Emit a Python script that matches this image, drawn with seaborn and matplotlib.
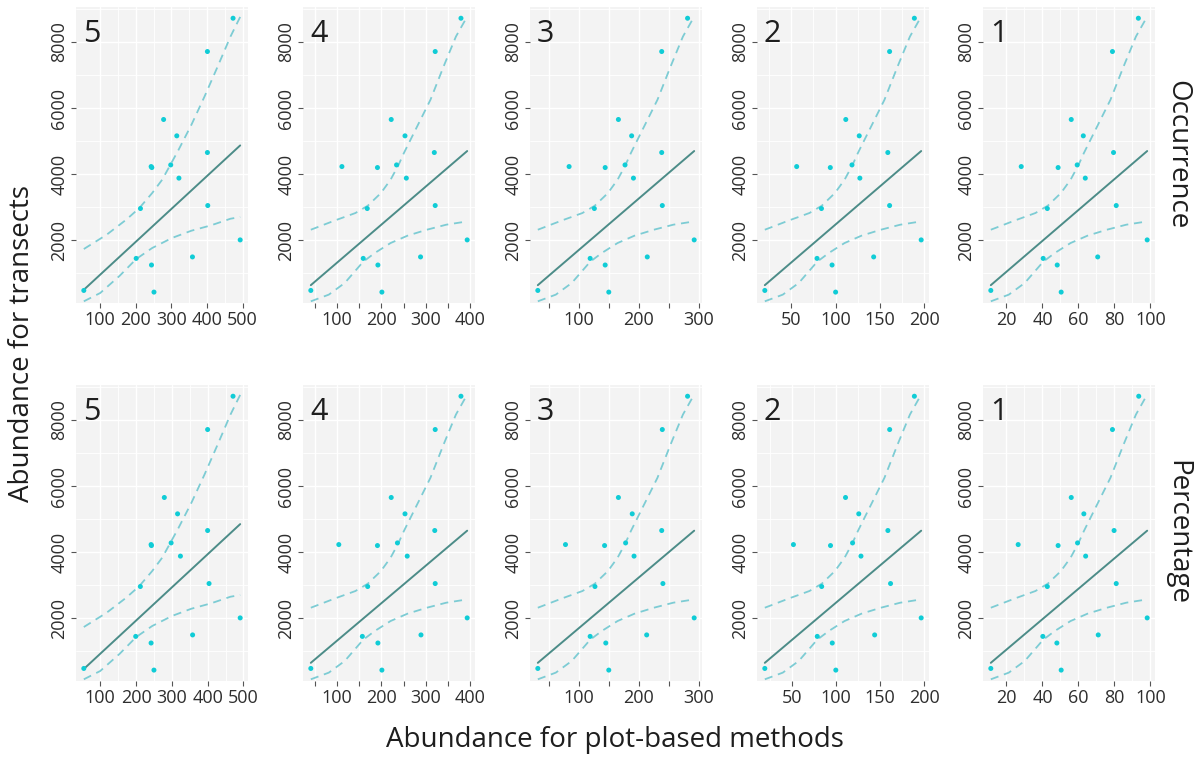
import numpy as np
import pandas as pd
import matplotlib
matplotlib.use("Agg")
import matplotlib.pyplot as plt
import seaborn as sns

# ---------------- data ----------------
transect_abundance = [480, 4230, 2960, 1450, 4200, 1250, 430, 5655, 4280, 5160,
                      3880, 1495, 4655, 3050, 7712, 8720, 2010]

panel_labels = ["5", "4", "3", "2", "1"]
row_labels = ["Occurrence", "Percentage"]

occ_x5 = [54, 243, 213, 201, 245, 244, 251, 278, 298, 315, 321, 359, 401, 402, 401, 473, 493]
occ_x4 = [41, 111, 168, 159, 191, 192, 201, 222, 234, 253, 256, 288, 319, 321, 321, 379, 393]
occ_x3 = [32, 84, 126, 119, 144, 144, 150, 166, 177, 188, 191, 214, 238, 239, 238, 281, 292]
occ_x2 = [20, 56, 84, 79, 94, 96, 100, 111.5, 118.5, 126.7, 127.4, 143, 159, 161, 161, 189, 196.7]
occ_x1 = [11.3, 28.2, 42.7, 40.4, 48.7, 48.2, 50.4, 56, 59.3, 62.7, 63.8, 70.7, 79.5, 81, 78.9, 93.3, 98.2]

pct_x5 = [54, 242, 212, 199, 243, 242, 250, 279, 298, 316, 324, 358, 400, 404, 400, 471, 491]
pct_x4 = [41, 104, 169, 157, 191, 192, 201, 222, 236, 253, 258, 289, 320, 321, 321, 379, 393]
pct_x3 = [32, 78, 127, 119, 143, 145, 150, 166, 178, 189, 192, 213, 238, 240, 239, 281, 292]
pct_x2 = [19.6, 52, 84, 79, 94, 96, 100, 111, 119, 126, 128.5, 144, 159, 162, 161, 189, 196.7]
pct_x1 = [11.3, 26.5, 42.7, 40.2, 48.7, 48, 50.4, 56, 59.5, 63, 64, 71, 79.8, 81, 78.9, 93.5, 98.2]

# fitted line (start, end), per row: level 5 / levels 1-4
fit_occ_5 = [500, 4870]
fit_occ_other = [640, 4700]
fit_pct_5 = [464, 4849]
fit_pct_other = [650, 4650]

# dashed interval curves, position as fraction of the fitted x-range
upper_t_5 = [0, 0.146, 0.271, 0.355, 0.437, 0.501, 0.556, 0.606, 0.688, 0.772, 0.856, 0.938, 1.0]
upper_y_5 = [1734, 2167, 2621, 2974, 3427, 3831, 4304, 4738, 5494, 6351, 7258, 8165, 8760]
lower_t_5 = [0, 0.105, 0.23, 0.335, 0.437, 0.563, 0.688, 0.813, 0.938, 1.0]
lower_y_5 = [151, 403, 927, 1431, 1764, 2067, 2288, 2450, 2651, 2702]

upper_t_o = [0, 0.155, 0.285, 0.364, 0.448, 0.51, 0.56, 0.595, 0.68, 0.765, 0.849, 0.928, 1.0]
upper_y_o = [2318, 2600, 2823, 3044, 3427, 3831, 4270, 4637, 5444, 6250, 7258, 8165, 8770]
lower_t_o = [0, 0.115, 0.217, 0.335, 0.409, 0.51, 0.618, 0.742, 0.866, 1.0]
lower_y_o = [151, 353, 706, 1350, 1613, 1915, 2137, 2318, 2470, 2570]

x_ticks = [[100, 200, 300, 400, 500],
           [50, 100, 150, 200, 250, 300, 350, 400],
           [50, 100, 150, 200, 250, 300],
           [50, 100, 150, 200],
           [20, 40, 60, 80, 100]]
x_ticklabels = [["100", "200", "300", "400", "500"],
                ["", "100", "", "200", "", "300", "", "400"],
                ["", "100", "", "200", "", "300"],
                ["50", "100", "150", "200"],
                ["20", "40", "60", "80", "100"]]
x_minor = [[150, 250, 350, 450],
           [],
           [],
           [25, 75, 125, 175],
           [30, 50, 70, 90]]
y_ticks = [2000, 4000, 6000, 8000]
y_minor = [1000, 3000, 5000, 7000, 9000]

# ---------------- style ----------------
sns.set_theme(style="white")
plt.rcParams["font.family"] = ["Open Sans", "DejaVu Sans"]

POINT = "#10CCD6"
LINE = "#4C8C88"
DASH = "#7DCCD4"
BG = "#F3F3F3"
TXT = "#1E1E1E"

fig = plt.figure(figsize=(12.03, 7.62), dpi=100)
W, H = 1203, 762
col_left = [76, 303, 530, 757, 983]
pw, ph = 172, 296
row_top = [7, 385]

rows = [
    dict(xs=[occ_x5, occ_x4, occ_x3, occ_x2, occ_x1], fit5=fit_occ_5, fito=fit_occ_other),
    dict(xs=[pct_x5, pct_x4, pct_x3, pct_x2, pct_x1], fit5=fit_pct_5, fito=fit_pct_other),
]

for r, row in enumerate(rows):
    for c in range(5):
        ax = fig.add_axes([col_left[c] / W, 1 - (row_top[r] + ph) / H, pw / W, ph / H])
        ax.set_facecolor(BG)
        for s in ax.spines.values():
            s.set_visible(False)
        xs = np.array(row["xs"][c], dtype=float)
        xmin, xmax = xs.min(), xs.max()
        if c == 0:
            fit, ut, uy, lt, ly = row["fit5"], upper_t_5, upper_y_5, lower_t_5, lower_y_5
        else:
            fit, ut, uy, lt, ly = row["fito"], upper_t_o, upper_y_o, lower_t_o, lower_y_o

        # grid
        for gx in x_minor[c]:
            ax.axvline(gx, color="white", lw=0.6, zorder=0)
        for gx in x_ticks[c]:
            ax.axvline(gx, color="white", lw=1.0, zorder=0)
        for gy in y_minor:
            ax.axhline(gy, color="white", lw=0.6, zorder=0)
        for gy in y_ticks:
            ax.axhline(gy, color="white", lw=1.0, zorder=0)

        df_pts = pd.DataFrame({"x": xs, "y": transect_abundance})
        sns.scatterplot(data=df_pts, x="x", y="y", ax=ax, color=POINT, s=13,
                        edgecolor="none", zorder=4, legend=False)

        df_fit = pd.DataFrame({"x": [xmin, xmax], "y": fit})
        sns.lineplot(data=df_fit, x="x", y="y", ax=ax, color=LINE, lw=1.4, zorder=3)

        df_up = pd.DataFrame({"x": xmin + np.array(ut) * (xmax - xmin), "y": uy})
        df_lo = pd.DataFrame({"x": xmin + np.array(lt) * (xmax - xmin), "y": ly})
        for d in (df_up, df_lo):
            sns.lineplot(data=d, x="x", y="y", ax=ax, color=DASH, lw=1.3, zorder=3,
                         linestyle=(0, (4.5, 3.2)), sort=False)

        rng = xmax - xmin
        ax.set_xlim(xmin - 0.05 * rng, xmax + 0.05 * rng)
        ax.set_ylim(100, 9060)
        ax.set_xticks(x_ticks[c])
        ax.set_xticklabels(x_ticklabels[c])
        ax.set_yticks(y_ticks)
        ax.set_yticklabels([str(v) for v in y_ticks], rotation=90, va="center")
        ax.tick_params(axis="both", which="major", length=3.5, width=0.8, color="#555555",
                       labelsize=13, labelcolor="#2E2E2E", pad=2, bottom=True, left=True)
        ax.set_xlabel("")
        ax.set_ylabel("")
        ax.text(0.04, 0.96, panel_labels[c], transform=ax.transAxes, ha="left", va="top",
                fontsize=22, color=TXT)
        if c == 4:
            ax.text(1.13, 0.5, row_labels[r], transform=ax.transAxes, rotation=-90,
                    ha="center", va="center", fontsize=20, color=TXT)

fig.text(22 / W, 1 - 344 / H, "Abundance for transects", rotation=90,
         ha="center", va="center", fontsize=20, color=TXT)
fig.text(615 / W, 1 - 740 / H, "Abundance for plot-based methods",
         ha="center", va="center", fontsize=20, color=TXT)

fig.savefig("out.png", dpi=100, facecolor="white")
